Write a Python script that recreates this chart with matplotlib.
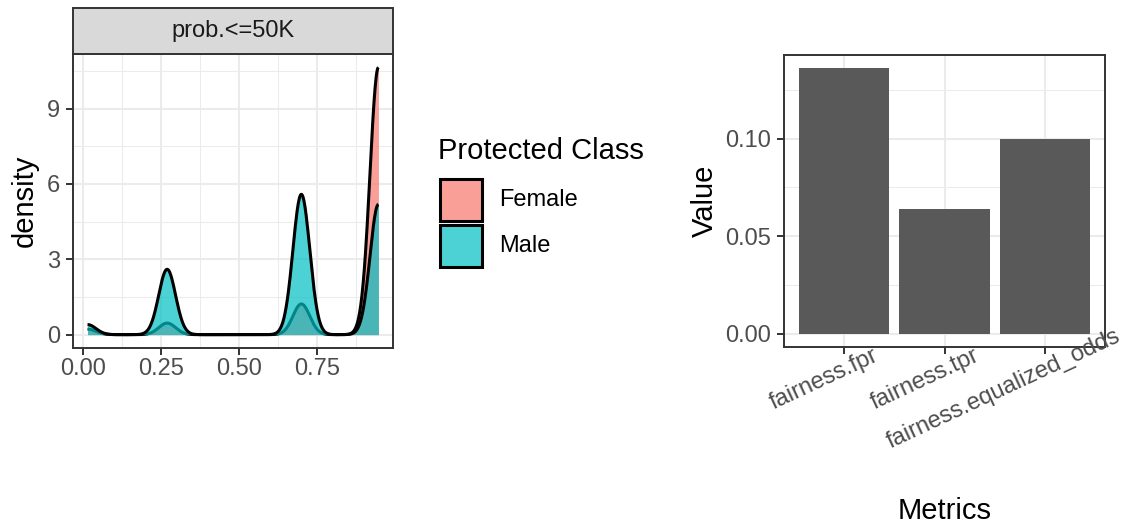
import numpy as np
import matplotlib
matplotlib.use("Agg")
import matplotlib.pyplot as plt
from matplotlib.patches import Rectangle
from matplotlib.textpath import TextPath
from matplotlib.font_manager import FontProperties
from matplotlib.transforms import ScaledTranslation

plt.rcParams['font.family'] = ['Liberation Sans', 'DejaVu Sans']

# ---------------- data ----------------
# density panel: predicted-probability levels and share of each class at each level
prob_levels = [0.015, 0.27, 0.70, 0.947]
female_share = [0.0149, 0.0311, 0.0826, 0.720]
male_share = [0.0271, 0.176, 0.378, 0.351]
bandwidth = 0.027
classes = ["Female", "Male"]
class_colors = ["#F8766D", "#00BFC4"]
strip_label = "prob.<=50K"
density_yticks = [0, 3, 6, 9]
density_xticks = [0.00, 0.25, 0.50, 0.75]
density_xticklabels = ["0.00", "0.25", "0.50", "0.75"]

# bar panel
metrics = ["fairness.fpr", "fairness.tpr", "fairness.equalized_odds"]
metric_values = [0.136, 0.064, 0.100]
bar_yticks = [0.00, 0.05, 0.10]
bar_yticklabels = ["0.00", "0.05", "0.10"]

# ---------------- figure ----------------
W, H = 1126, 526
fig = plt.figure(figsize=(W / 100, H / 100), dpi=100)

def fbox(x0, y0, x1, y1):
    return [x0 / W, 1 - y1 / H, (x1 - x0) / W, (y1 - y0) / H]

BIG = 21
SMALL = 17
GRID = "#EBEBEB"
BORDER = "#333333"
TICKC = "#4D4D4D"

def style(ax):
    for s in ax.spines.values():
        s.set_color(BORDER)
        s.set_linewidth(1.4)
        s.set_zorder(10)
    ax.tick_params(axis='both', which='major', length=5, width=1.4, color=BORDER,
                   labelcolor=TICKC, labelsize=SMALL)
    ax.tick_params(axis='both', which='minor', length=0)
    ax.grid(which='major', color=GRID, linewidth=1.5)
    ax.grid(which='minor', color=GRID, linewidth=0.75)
    ax.set_axisbelow(True)

# ---- left: density ----
ax1 = fig.add_axes(fbox(73, 54, 393, 348))
style(ax1)
xmin, xmax = min(prob_levels), max(prob_levels)
xs = np.linspace(xmin, xmax, 512)

def kde(shares):
    y = np.zeros_like(xs)
    for c, w in zip(prob_levels, shares):
        y += w * np.exp(-0.5 * ((xs - c) / bandwidth) ** 2) / (bandwidth * np.sqrt(2 * np.pi))
    return y

curves = [kde(female_share), kde(male_share)]
z = 2
for yv, col in zip(curves, class_colors):
    ax1.fill_between(xs, 0, yv, color=col, alpha=0.7, linewidth=0, zorder=z)
    ax1.plot(xs, yv, color="black", linewidth=2.2, solid_capstyle='butt', zorder=z + 1)
    z += 2

ymax = max(c.max() for c in curves)
span = xmax - xmin
ax1.set_xlim(xmin - 0.05 * span, xmax + 0.05 * span)
ax1.set_ylim(-0.05 * ymax, ymax * 1.05)
ax1.set_xticks(density_xticks)
ax1.set_xticklabels(density_xticklabels)
ax1.set_xticks([0.125, 0.375, 0.625, 0.875], minor=True)
ax1.set_yticks(density_yticks)
ax1.set_yticks([1.5, 4.5, 7.5, 10.5], minor=True)
ax1.tick_params(axis='x', pad=2.5)
ax1.tick_params(axis='y', pad=4.3)
fig.text(25 / W, 1 - 201 / H, "density", rotation=90, ha='center', va='center',
         fontsize=BIG, color='black')

# strip
sx0, sy0, sx1, sy1 = 73, 8, 393, 54
fig.patches.append(Rectangle((sx0 / W, 1 - sy1 / H), (sx1 - sx0) / W, (sy1 - sy0) / H,
                             transform=fig.transFigure, facecolor="#D9D9D9",
                             edgecolor=BORDER, linewidth=1.4))
fig.text((sx0 + sx1) / 2 / W, 1 - 31 / H, strip_label, ha='center', va='center',
         fontsize=SMALL, color="#1A1A1A")

# legend
fig.text(438 / W, 1 - 159 / H, "Protected Class", ha='left', va='baseline',
         fontsize=BIG, color='black')
key_tops = [179, 225]
for lab, col, kt in zip(classes, class_colors, key_tops):
    fig.patches.append(Rectangle((440 / W, 1 - (kt + 42) / H), 42 / W, 42 / H,
                                 transform=fig.transFigure, facecolor=col, alpha=0.7,
                                 edgecolor='none'))
    fig.patches.append(Rectangle((440 / W, 1 - (kt + 42) / H), 42 / W, 42 / H,
                                 transform=fig.transFigure, facecolor='none',
                                 edgecolor='black', linewidth=2.2))
    fig.text(499 / W, 1 - (kt + 21) / H, lab, ha='left', va='center',
             fontsize=SMALL, color='black')

# ---- right: bars ----
ax2 = fig.add_axes(fbox(784, 55, 1105, 347))
style(ax2)
pos = np.arange(1, len(metrics) + 1)
ax2.bar(pos, metric_values, width=0.9, color="#595959", zorder=2)
ax2.set_xlim(0.4, len(metrics) + 0.6)
vmax = max(metric_values)
ax2.set_ylim(-0.05 * vmax, vmax * 1.05)
ax2.set_xticks(pos)
ax2.set_xticklabels([""] * len(metrics))
ax2.set_yticks(bar_yticks)
ax2.set_yticklabels(bar_yticklabels)
ax2.set_yticks([0.025, 0.075, 0.125], minor=True)
ax2.tick_params(axis='y', pad=4.5)
ax2.grid(axis='x', which='minor', visible=False)

ang = 25
fp = FontProperties(family='Liberation Sans', size=SMALL)
frac = 0.67
for p, lab in zip(pos, metrics):
    L = TextPath((0, 0), lab, prop=fp).get_extents().width  # points
    dx = -frac * L * np.cos(np.radians(ang))
    dy = -21.5 - frac * L * np.sin(np.radians(ang))
    tr = ax2.get_xaxis_transform() + ScaledTranslation(dx / 72, dy / 72, fig.dpi_scale_trans)
    ax2.text(p, 0, lab, transform=tr, rotation=ang, rotation_mode='anchor',
             ha='left', va='baseline', fontsize=SMALL, color=TICKC, clip_on=False,
             zorder=11)

fig.text(705 / W, 1 - 201 / H, "Value", rotation=90, ha='center', va='center',
         fontsize=BIG, color='black')
fig.text(945 / W, 1 - 511 / H, "Metrics", ha='center', va='center',
         fontsize=BIG, color='black')

fig.savefig("out.png", dpi=100)
